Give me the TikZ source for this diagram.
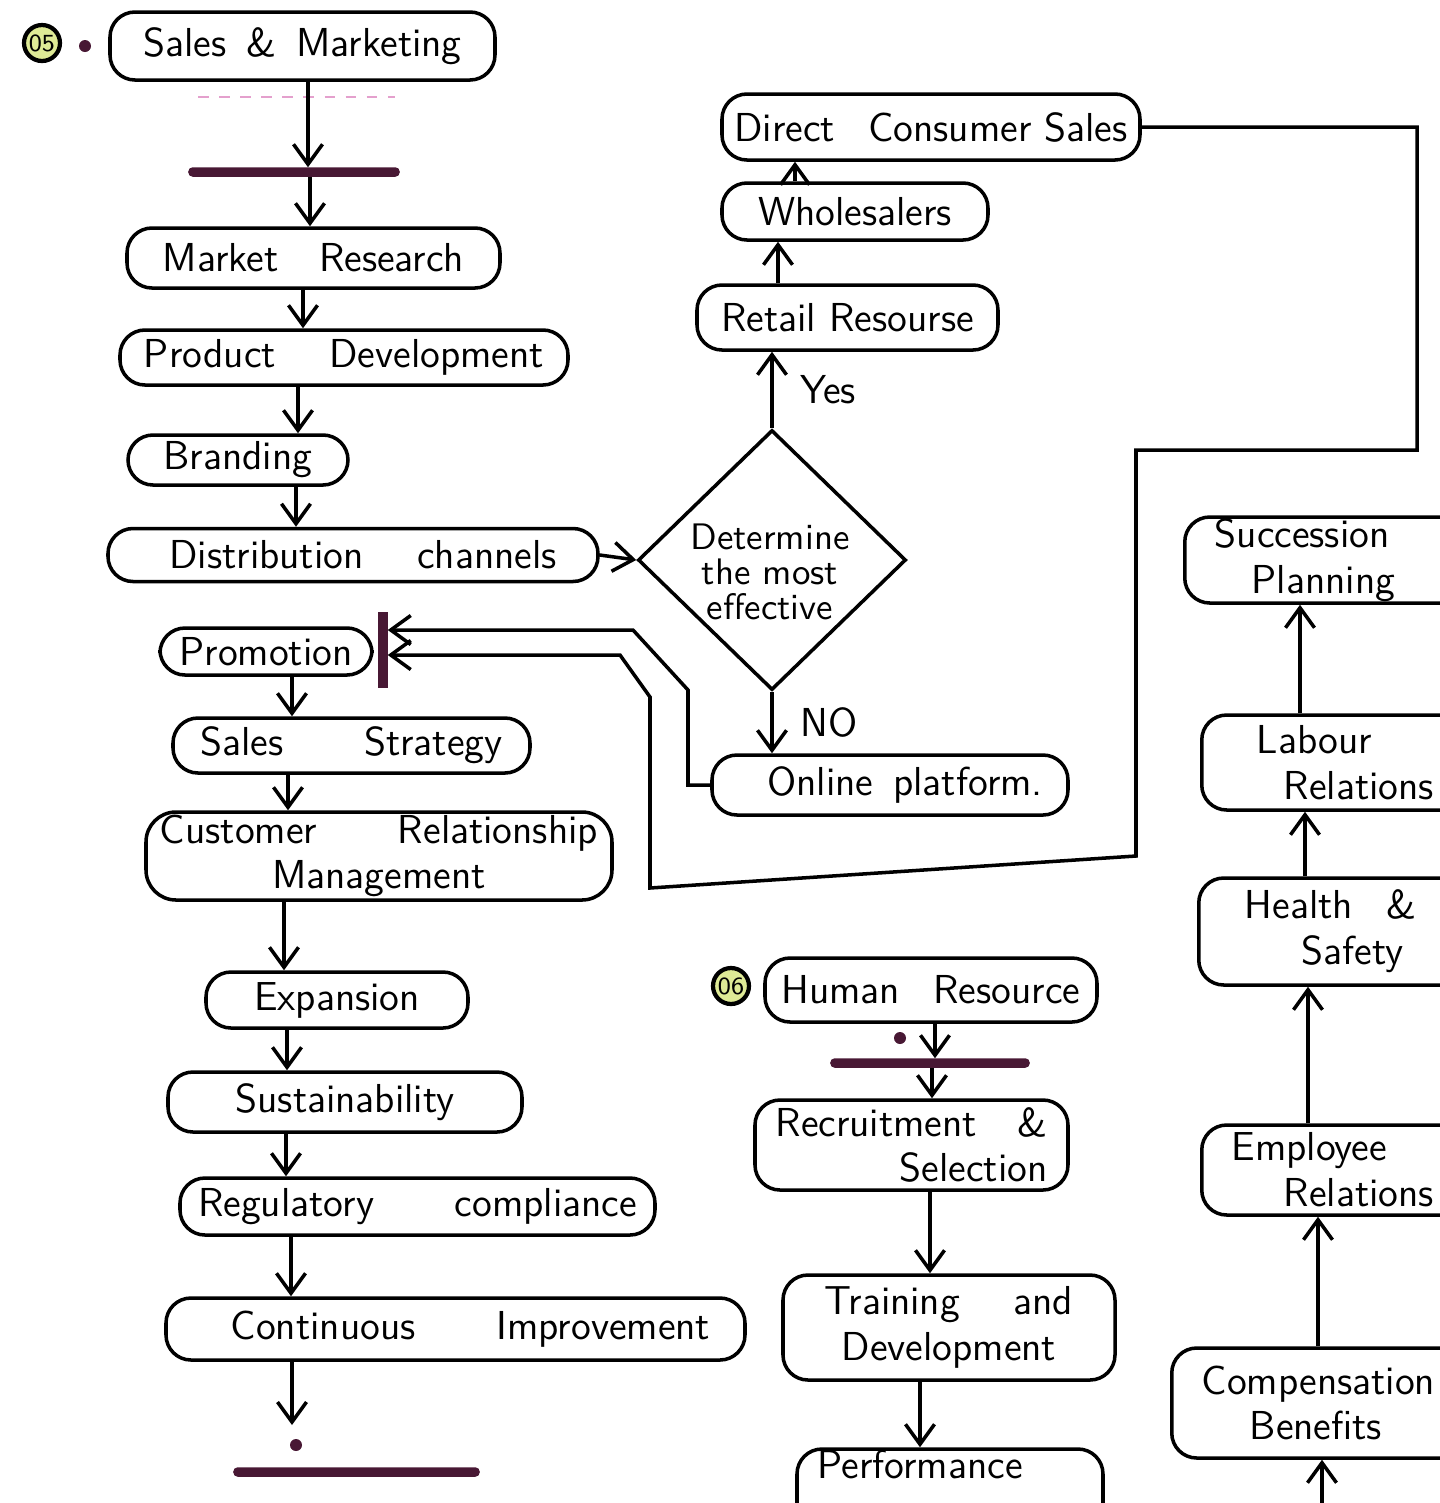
\documentclass[tikz,border=0pt]{standalone}
\usepackage{tikz}
\usetikzlibrary{shapes.geometric,arrows.meta,calc}
\definecolor{barcol}{RGB}{72,24,52}
\definecolor{badgecol}{RGB}{222,234,150}
\definecolor{bleedcol}{RGB}{228,160,205}

\begin{document}
\begin{tikzpicture}[line width=1pt, >={Straight Barb[length=2mm,width=2.9mm]},
		every node/.style={font=\sffamily\fontsize{11.5}{13}\selectfont},
		box/.style={draw, rounded corners=0.25cm, align=center, inner sep=0pt},
		rbox/.style={box, anchor=west, align=left, text width=2.9cm, inner xsep=0.3cm},
		decision/.style={draw, diamond, inner sep=0pt},
		hbar/.style={draw=barcol, fill=barcol, minimum height=0.06cm, inner sep=0pt, rounded corners=0.03cm},
		vbar/.style={draw=barcol, fill=barcol, minimum width=0.06cm, inner sep=0pt},
		badge/.style={draw, circle, fill=badgecol, minimum size=0.36cm, inner sep=0pt, line width=1.2pt, font=\sffamily\fontsize{7}{8}\selectfont},
		dot/.style={circle, fill=barcol, minimum size=0.12cm, inner sep=0pt}]
		\useasboundingbox (0,0) rectangle (14.4,-15.03);
		\clip (0,0) rectangle (14.4,-15.03);

		% sales and marketing
		\node[badge] (B05) at (0.42,-0.43) {05};
		\node[dot] (D1) at (0.85,-0.46) {};
		\node[box, minimum width=3.85cm, minimum height=0.68cm] (SM) at (3.025,-0.46) {Sales\enspace\&\enspace Marketing};
		\draw[bleedcol, line width=0.6pt, dashed] (1.98,-0.97) -- (3.95,-0.97);
		\node[hbar, minimum width=2.08cm] (BAR1) at (2.94,-1.72) {};
		\node[box, minimum width=3.73cm, minimum height=0.6cm] (MR) at (3.135,-2.58) {Market\quad Research};
		\node[box, minimum width=4.48cm, minimum height=0.55cm] (PD) at (3.44,-3.575) {Product\quad\ Development};
		\node[box, minimum width=2.2cm, minimum height=0.5cm] (BR) at (2.38,-4.6) {Branding};
		\node[box, minimum width=4.9cm, minimum height=0.53cm] (DC) at (3.53,-5.55) {\hspace*{0.2cm}Distribution\quad\ channels};
		\node[box, minimum width=2.12cm, minimum height=0.47cm] (PR) at (2.66,-6.515) {Promotion};
		\node[vbar, minimum height=0.72cm] (PBAR) at (3.83,-6.5) {};
		\node[box, minimum width=3.57cm, minimum height=0.55cm] (SS) at (3.515,-7.455) {Sales\qquad Strategy};
		\node[box, minimum width=4.66cm, minimum height=0.88cm, rounded corners=0.3cm] (CRM) at (3.79,-8.56) {Customer\qquad Relationship\\Management};
		\node[box, minimum width=2.62cm, minimum height=0.56cm] (EX) at (3.37,-10.0) {Expansion};
		\node[box, minimum width=3.54cm, minimum height=0.6cm] (SU) at (3.45,-11.02) {Sustainability};
		\node[box, minimum width=4.75cm, minimum height=0.57cm] (RC) at (4.175,-12.065) {Regulatory\qquad compliance};
		\node[box, minimum width=5.79cm, minimum height=0.62cm] (CI) at (4.555,-13.29) {\hspace*{0.3cm}Continuous\qquad Improvement};
		\coordinate (CIend) at (2.92,-14.25);
		\node[dot] (D2) at (2.96,-14.45) {};
		\node[hbar, minimum width=2.43cm] (BAR2) at (3.565,-14.72) {};

		\draw[->] (3.08,0 |- SM.south) -- (3.08,0 |- BAR1.north);
		\draw[->] (3.10,0 |- BAR1.south) -- (3.10,0 |- MR.north);
		\draw[->] (3.03,0 |- MR.south) -- (3.03,0 |- PD.north);
		\draw[->] (2.98,0 |- PD.south) -- (2.98,0 |- BR.north);
		\draw[->] (2.96,0 |- BR.south) -- (2.96,0 |- DC.north);
		\draw[->] (2.92,0 |- PR.south) -- (2.92,0 |- SS.north);
		\draw[->] (2.88,0 |- SS.south) -- (2.88,0 |- CRM.north);
		\draw[->] (2.84,0 |- CRM.south) -- (2.84,0 |- EX.north);
		\draw[->] (2.87,0 |- EX.south) -- (2.87,0 |- SU.north);
		\draw[->] (2.86,0 |- SU.south) -- (2.86,0 |- RC.north);
		\draw[->] (2.91,0 |- RC.south) -- (2.91,0 |- CI.north);
		\draw[->] (2.92,0 |- CI.south) -- (CIend);

		% channel decision
		\node[decision, minimum width=2.68cm, minimum height=2.6cm] (DET) at (7.72,-5.6) {};
		\node[align=center, font=\sffamily\fontsize{10.5}{10}\selectfont] (DETtxt) at (7.7,-5.72) {Determine\\the most\\effective};
		\node[box, minimum width=3.01cm, minimum height=0.65cm] (RT) at (8.475,-3.175) {Retail Resourse};
		\node[box, minimum width=2.66cm, minimum height=0.57cm] (WH) at (8.55,-2.115) {Wholesalers};
		\node[box, minimum width=4.18cm, minimum height=0.66cm] (DCS) at (9.31,-1.27) {Direct\enspace\ Consumer Sales};
		\node[box, minimum width=3.56cm, minimum height=0.6cm] (OP) at (8.9,-7.85) {\hspace*{0.3cm}Online\enspace platform.};

		\draw[->] (DC.east) -- (DET.west);
		\draw[->] (DET.north) -- (DET.north |- RT.south) node[midway, right=0.15cm] {Yes};
		\draw[->] (7.78,0 |- RT.north) -- (7.78,0 |- WH.south);
		\draw[->] (7.95,0 |- WH.north) -- (7.95,0 |- DCS.south);
		\draw[->] (DET.south) -- (DET.south |- OP.north) node[midway, right=0.15cm] {NO};
		\draw[->] (DCS.east) -- (DCS.east -| 14.17,0) -- (14.17,-4.5) -- (11.36,-4.5) -- (11.36,-8.56) -- (6.5,-8.88) -- (6.5,-6.97) -- (6.2,-6.55) -- (6.2,-6.55 -| PBAR.east);
		\draw[->] (OP.west) -- (OP.west -| 6.88,0) -- (6.88,-6.9) -- (6.33,-6.3) -- (6.33,-6.3 -| PBAR.east);

		% human resource
		\node[badge] (B06) at (7.31,-9.86) {06};
		\node[box, minimum width=3.32cm, minimum height=0.64cm] (HR) at (9.31,-9.9) {Human\enspace\ Resource};
		\node[dot] (D3) at (9.0,-10.38) {};
		\node[hbar, minimum width=1.96cm] (BAR3) at (9.3,-10.63) {};
		\node[box, minimum width=3.13cm, minimum height=0.9cm, align=right] (RS) at (9.115,-11.45) {Recruitment\quad\&\\Selection};
		\node[box, minimum width=3.32cm, minimum height=1.05cm] (TD) at (9.49,-13.275) {Training\quad\ and\\Development};
		\node[box, minimum width=3.06cm, minimum height=0.9cm] (PF) at (9.5,-14.94) {Performance\hspace*{0.6cm}\\\strut};

		\draw[->] (9.35,0 |- HR.south) -- (9.35,0 |- BAR3.north);
		\draw[->] (9.32,0 |- BAR3.south) -- (9.32,0 |- RS.north);
		\draw[->] (9.30,0 |- RS.south) -- (9.30,0 |- TD.north);
		\draw[->] (9.20,0 |- TD.south) -- (9.20,0 |- PF.north);

		\node[rbox, minimum height=0.86cm] (SP) at (11.83,-5.6) {Succession\\\hspace*{0.37cm}Planning};
		\node[rbox, minimum height=0.95cm] (LR) at (12.0,-7.625) {\hspace*{0.25cm}Labour\\\hspace*{0.52cm}Relations};
		\node[rbox, minimum height=1.07cm] (HS) at (11.97,-9.315) {\hspace*{0.16cm}Health\enspace\ \&\\\hspace*{0.73cm}Safety};
		\node[rbox, minimum height=0.9cm] (ER) at (12.0,-11.7) {Employee\\\hspace*{0.52cm}Relations};
		\node[rbox, minimum height=1.1cm] (CB) at (11.7,-14.03) {Compensation\\\hspace*{0.48cm}Benefits};
		\coordinate (CBin) at (13.22,-15.03);

		\draw[->] (13.00,0 |- LR.north) -- (13.00,0 |- SP.south);
		\draw[->] (13.05,0 |- HS.north) -- (13.05,0 |- LR.south);
		\draw[->] (13.08,0 |- ER.north) -- (13.08,0 |- HS.south);
		\draw[->] (13.18,0 |- CB.north) -- (13.18,0 |- ER.south);
		\draw[->] (CBin) -- (CBin |- CB.south);
	\end{tikzpicture}
\end{document}
